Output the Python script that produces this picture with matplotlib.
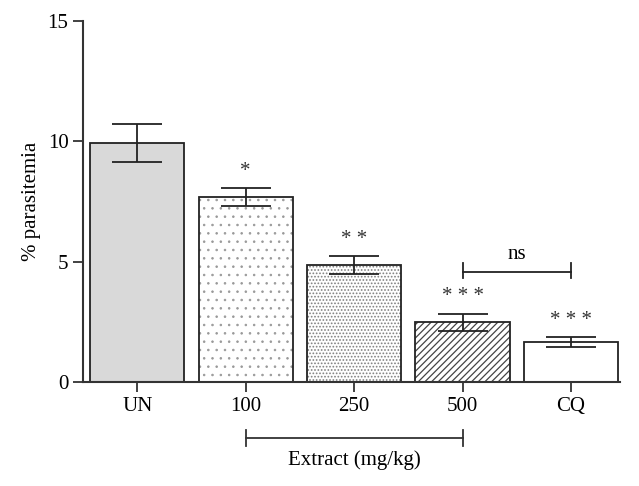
import matplotlib.pyplot as plt
import matplotlib.transforms as mtransforms

plt.rcParams['font.family'] = ['Liberation Serif', 'DejaVu Serif']

groups = ['UN', '100', '250', '500', 'CQ']
means = [9.93, 7.7, 4.85, 2.48, 1.66]
errors = [0.78, 0.37, 0.37, 0.36, 0.21]
stars = ['', '*', '**', '***', '***']
fills = ['#d9d9d9', 'white', 'white', 'white', 'white']
hatches = [None, '..', '.....', '/////', None]
hatch_colors = ['black', '#999999', '#808080', '#444444', 'black']
hatch_widths = [0.9, 0.6, 0.8, 0.9, 0.9]

fig = plt.figure(figsize=(6.39, 4.86), dpi=100)
ax = fig.add_axes([0.13, 0.214, 0.84, 0.743])

x = list(range(len(groups)))
for i in x:
    # fill + texture first, then the black outline on top
    with plt.rc_context({'hatch.linewidth': hatch_widths[i]}):
        ax.bar(i, means[i], width=0.87, color=fills[i], edgecolor=hatch_colors[i],
               linewidth=0, hatch=hatches[i], zorder=2)
    ax.bar(i, means[i], width=0.87, color='none', edgecolor='#222222',
           linewidth=1.3, zorder=2.5)
    ax.errorbar(i, means[i], yerr=errors[i], fmt='none', ecolor='#222222',
                elinewidth=1.3, capsize=18, capthick=1.3, zorder=3)
    if stars[i]:
        ax.text(i, means[i] + errors[i] + 0.3, ' '.join(stars[i]), ha='center',
                va='bottom', fontsize=15, color='#333333')

# ns bracket between 500 and CQ
yb = 4.55
ax.plot([3, 4], [yb, yb], color='#222222', lw=1.3, clip_on=False)
ax.plot([3, 3], [yb - 0.25, yb + 0.4], color='#222222', lw=1.3, clip_on=False)
ax.plot([4, 4], [yb - 0.25, yb + 0.4], color='#222222', lw=1.3, clip_on=False)
ax.text(3.5, yb + 0.35, 'ns', ha='center', va='bottom', fontsize=15)

ax.set_xlim(-0.5, 4.45)
ax.set_ylim(0, 15)
ax.set_yticks([0, 5, 10, 15])
ax.set_xticks(x)
ax.set_xticklabels(groups)
ax.tick_params(labelsize=15, length=7, width=1.3, colors='#333333', labelcolor='black')
ax.set_ylabel('% parasitemia', fontsize=15, labelpad=5)
for s in ['top', 'right']:
    ax.spines[s].set_visible(False)
for s in ['left', 'bottom']:
    ax.spines[s].set_linewidth(1.5)
    ax.spines[s].set_color('#333333')

# Extract bracket under 100..500
trans = mtransforms.blended_transform_factory(ax.transData, ax.transAxes)
yb2 = -0.155
ax.plot([1, 3], [yb2, yb2], color='#333333', lw=1.3, transform=trans, clip_on=False)
ax.plot([1, 1], [yb2 - 0.022, yb2 + 0.022], color='#333333', lw=1.3, transform=trans, clip_on=False)
ax.plot([3, 3], [yb2 - 0.022, yb2 + 0.022], color='#333333', lw=1.3, transform=trans, clip_on=False)
ax.text(2, -0.19, 'Extract (mg/kg)', transform=trans, ha='center', va='top', fontsize=15)

plt.savefig('out.png', dpi=100)
